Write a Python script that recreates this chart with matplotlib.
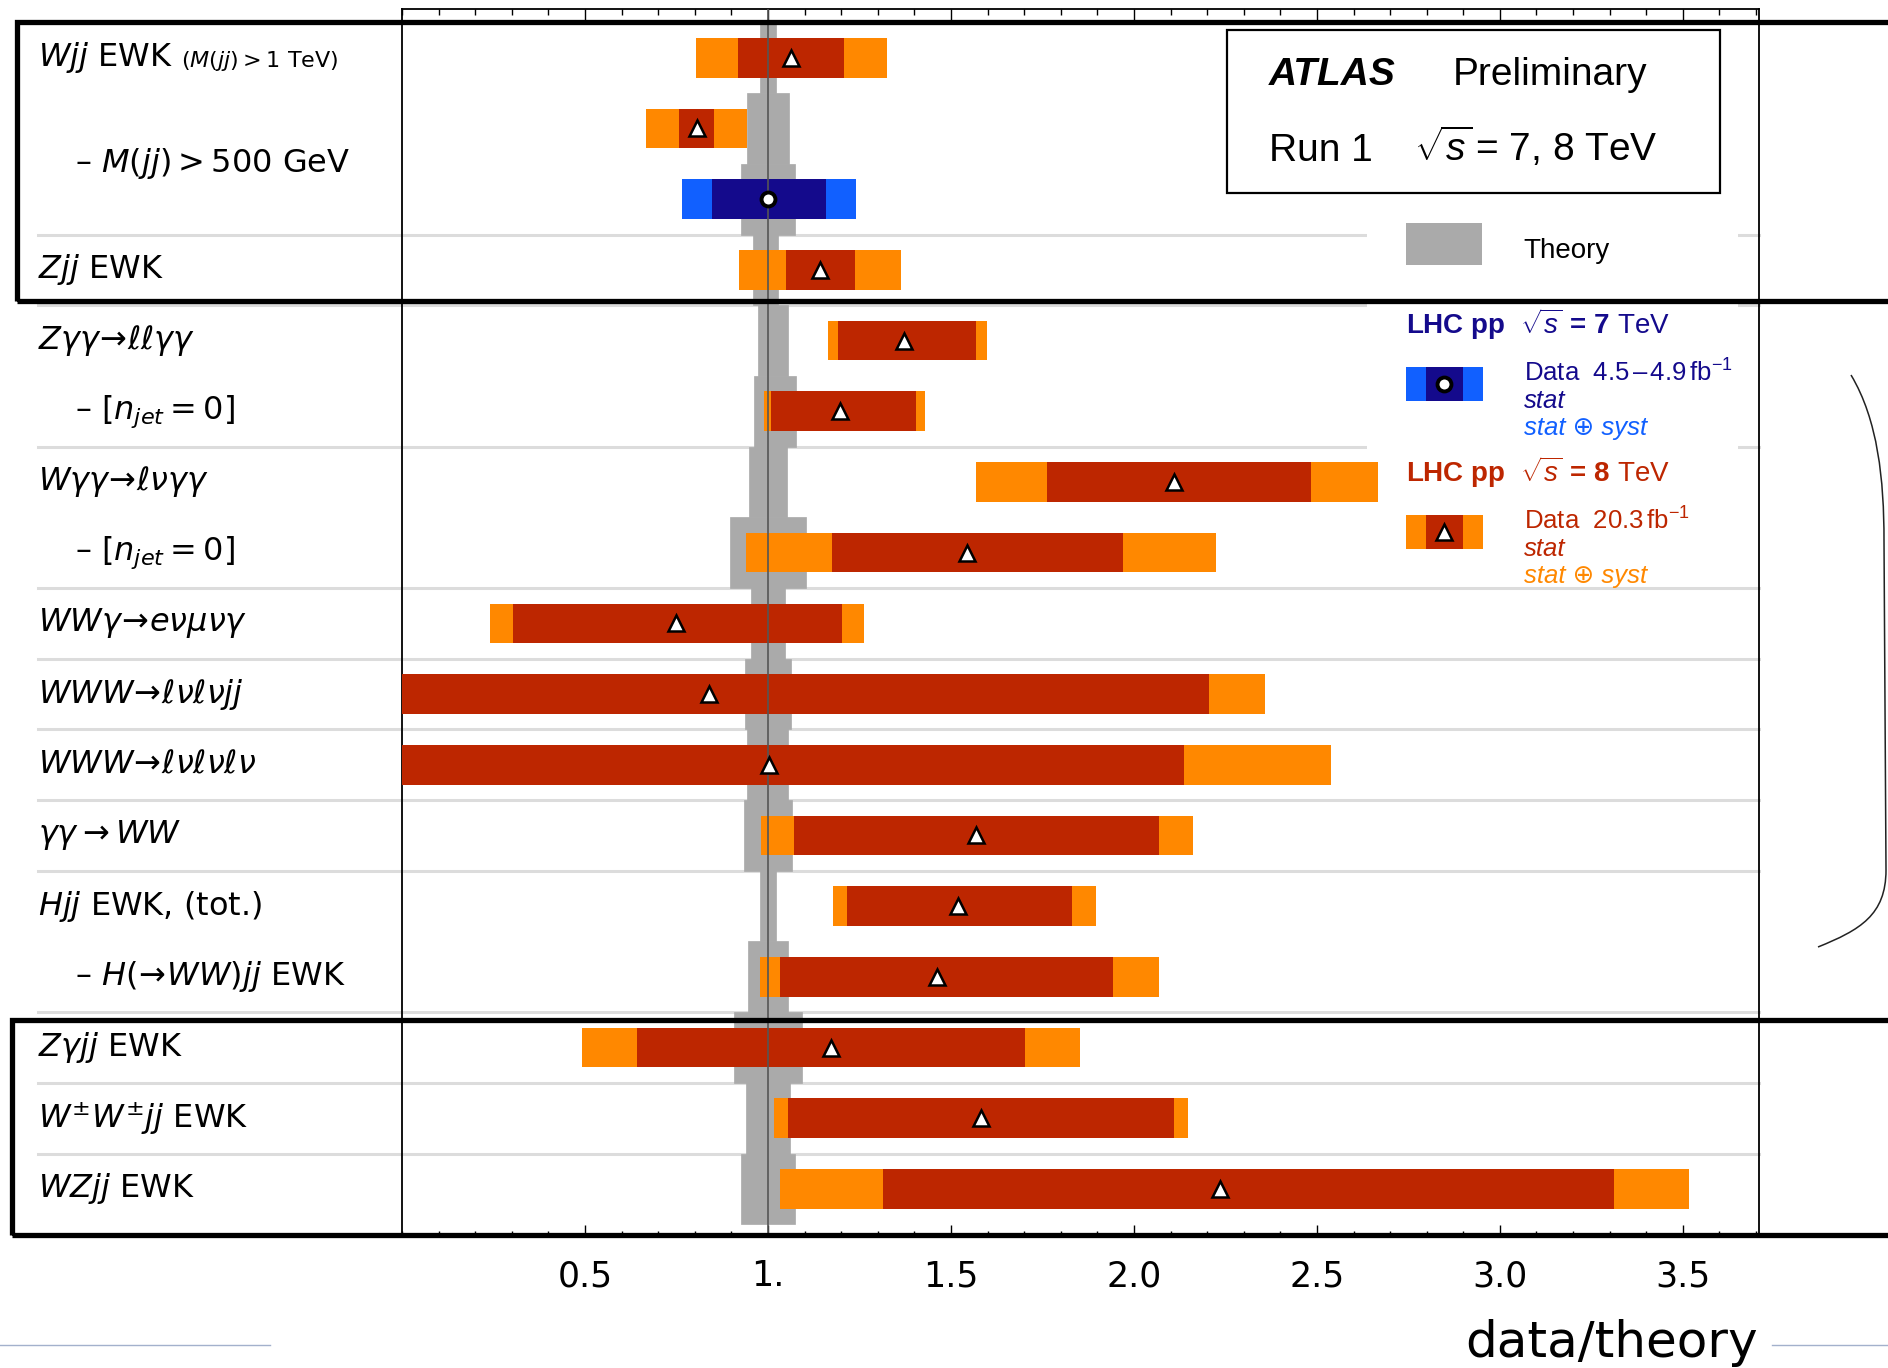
import matplotlib.pyplot as plt
from matplotlib import transforms
from matplotlib.lines import Line2D
from matplotlib.patches import Rectangle, PathPatch
from matplotlib.path import Path
from matplotlib.ticker import MultipleLocator

plt.rcParams['mathtext.fontset'] = 'custom'
plt.rcParams['mathtext.rm'] = 'Liberation Sans'
plt.rcParams['mathtext.it'] = 'Liberation Sans:italic'
plt.rcParams['mathtext.bf'] = 'Liberation Sans:bold'

# process labels (left column) and the row they sit on
labels = ['$Wjj$ EWK', '– $M(jj) > 500$ GeV', '$Zjj$ EWK',
          r'$Z\gamma\gamma\!\rightarrow\!\ell\ell\gamma\gamma$', r'– $[n_{jet} = 0]$',
          r'$W\gamma\gamma\!\rightarrow\!\ell\nu\gamma\gamma$', r'– $[n_{jet} = 0]$',
          r'$WW\gamma\!\rightarrow\! e\nu\mu\nu\gamma$', r'$WWW\!\rightarrow\!\ell\nu\ell\nu jj$',
          r'$WWW\!\rightarrow\!\ell\nu\ell\nu\ell\nu$', r'$\gamma\gamma\rightarrow WW$',
          '$Hjj$ EWK, (tot.)', r'– $H(\!\rightarrow\! WW)jj$ EWK',
          r'$Z\gamma jj$ EWK', r'$W^{\pm}W^{\pm}jj$ EWK', '$WZjj$ EWK']
label_rows = [0, 1.5, 3, 4, 5, 6, 7, 8, 9, 10, 11, 12, 13, 14, 15, 16]
label_indent = [False, True, False, False, True, False, True, False,
                False, False, False, False, True, False, False, False]

# one entry per measurement row (top to bottom)
energy = [8, 8, 7, 8, 8, 8, 8, 8, 8, 8, 8, 8, 8, 8, 8, 8, 8]
central = [1.062, 0.805, 1.000, 1.142, 1.372, 1.197, 2.109, 1.543, 0.750,
           0.840, 1.003, 1.569, 1.520, 1.461, 1.171, 1.582, 2.234]
stat_lo = [0.919, 0.757, 0.846, 1.050, 1.191, 1.007, 1.763, 1.174, 0.303,
           -0.50, -0.50, 1.072, 1.217, 1.033, 0.641, 1.056, 1.313]
stat_hi = [1.208, 0.853, 1.159, 1.238, 1.569, 1.405, 2.484, 1.970, 1.201,
           2.204, 2.138, 2.069, 1.832, 1.944, 1.701, 2.109, 3.313]
tot_lo = [0.802, 0.667, 0.764, 0.922, 1.164, 0.990, 1.569, 0.941, 0.240,
          -0.60, -0.60, 0.980, 1.178, 0.977, 0.493, 1.016, 1.033]
tot_hi = [1.325, 0.942, 1.240, 1.364, 1.599, 1.428, 2.668, 2.224, 1.263,
          2.359, 2.539, 2.161, 1.895, 2.069, 1.852, 2.148, 3.516]
theory_dn = [0.022, 0.058, 0.074, 0.040, 0.026, 0.039, 0.053, 0.104, 0.047,
             0.064, 0.056, 0.065, 0.022, 0.054, 0.093, 0.061, 0.074]
theory_up = [0.023, 0.058, 0.074, 0.028, 0.054, 0.077, 0.053, 0.104, 0.047,
             0.064, 0.056, 0.065, 0.022, 0.054, 0.093, 0.061, 0.074]

separators = [2.5, 3.5, 5.5, 7.5, 8.5, 9.5, 10.5, 11.5, 13.5, 14.5, 15.5]
tick_vals = [0.5, 1.0, 1.5, 2.0, 2.5, 3.0, 3.5]
tick_text = ['0.5', '1.', '1.5', '2.0', '2.5', '3.0', '3.5']

stat_col = {7: '#140a8c', 8: '#bd2600'}
tot_col = {7: '#1160ff', 8: '#ff8800'}
mark = {7: 'o', 8: '^'}
mark_size = {7: 10, 8: 11}
mark_edge = {7: 2.8, 8: 1.8}

W, H = 1888, 1368
def fx(px):
    return px / W
def fy(py):
    return 1 - py / H

fig = plt.figure(figsize=(W / 100, H / 100), dpi=100)
ax = fig.add_axes([fx(402), fy(1237), fx(1759) - fx(402), fy(9) - fy(1237)])
rows = list(range(len(central)))

# theory band
ax.barh(rows, [d + u for d, u in zip(theory_dn, theory_up)],
        left=[1 - d for d in theory_dn], height=1.0, color='#aaaaaa',
        edgecolor='#aaaaaa', lw=0.5, zorder=2)
# stat+syst and stat bars
ax.barh(rows, [h - l for l, h in zip(tot_lo, tot_hi)], left=tot_lo, height=0.56,
        color=[tot_col[e] for e in energy], zorder=3)
ax.barh(rows, [h - l for l, h in zip(stat_lo, stat_hi)], left=stat_lo, height=0.56,
        color=[stat_col[e] for e in energy], zorder=3.1)
ax.axvline(1, color='#555555', lw=1.2, zorder=4)
for i in rows:
    e = energy[i]
    ax.plot(central[i], i, marker=mark[e], ms=mark_size[e],
            mfc='white', mec='black', mew=mark_edge[e], zorder=5)

# legend background hides the separators
ax.add_patch(Rectangle((2.637, 2.4), 1.013, 5.0, fc='white', ec='none', zorder=1.5))

blend = transforms.blended_transform_factory(fig.transFigure, ax.transData)
for s in separators:
    ax.add_line(Line2D([fx(38), fx(1759)], [s, s], transform=blend, color='#dcdcdc',
                       lw=2.2, zorder=1, clip_on=False))

for lab, r, ind in zip(labels, label_rows, label_indent):
    t = ax.text(fx(75) if ind else fx(38), r, lab, transform=blend, fontsize=23,
                va='center', ha='left', math_fontfamily='dejavusans')
    if r == 0:
        ax.annotate(r'$(M(jj) > 1$ TeV$)$', xy=(1, 0.42), xycoords=t, xytext=(6, 0),
                    textcoords='offset points', fontsize=16, va='center',
                    math_fontfamily='dejavusans')

ax.set_xlim(0, 3.708)
ax.set_ylim(16.68, -0.69)
ax.set_yticks([])
ax.set_xticks(tick_vals)
ax.set_xticklabels(tick_text)
ax.xaxis.set_minor_locator(MultipleLocator(0.1))
ax.tick_params(axis='x', which='both', direction='in', top=True, bottom=True)
ax.tick_params(axis='x', which='major', length=9, width=1, labelsize=25, pad=16)
ax.tick_params(axis='x', which='minor', length=4, width=1)
for sp in ax.spines.values():
    sp.set_linewidth(1.3)

# ATLAS box
fig.add_artist(Rectangle((fx(1227), fy(193)), fx(1720) - fx(1227), fy(30) - fy(193),
                         transform=fig.transFigure, fill=False, ec='black', lw=1.6))
lib = 'Liberation Sans'
fig.text(fx(1269), fy(85), 'ATLAS', fontsize=28, weight='bold', style='italic', family=lib)
fig.text(fx(1453), fy(85), 'Preliminary', fontsize=28, family=lib)
fig.text(fx(1269), fy(161), 'Run 1', fontsize=28, family=lib)
fig.text(fx(1414), fy(161), r'$\sqrt{s}\,$= 7, 8 TeV', fontsize=28, family=lib,
         math_fontfamily='custom')

# legend
fig.add_artist(Rectangle((fx(1406), fy(265)), fx(76), fy(223) - fy(265),
                         transform=fig.transFigure, fc='#aaaaaa', ec='none'))
fig.text(fx(1523), fy(258), 'Theory', fontsize=20, family=lib)

for e, base in [(7, 334), (8, 482)]:
    fig.text(fx(1406), fy(base), r'$\mathbf{LHC\ pp}\ \ \sqrt{s}\,\mathbf{=\,%d}$ TeV' % e,
             fontsize=20, family=lib, color=stat_col[e], math_fontfamily='custom')
    top = base + 33
    fig.add_artist(Rectangle((fx(1406), fy(top + 34)), fx(77), fy(top) - fy(top + 34),
                             transform=fig.transFigure, fc=tot_col[e], ec='none'))
    fig.add_artist(Rectangle((fx(1426), fy(top + 34)), fx(37), fy(top) - fy(top + 34),
                             transform=fig.transFigure, fc=stat_col[e], ec='none'))
    fig.add_artist(Line2D([fx(1444)], [fy(top + 17)], transform=fig.transFigure,
                          marker=mark[e], ms=mark_size[e], mfc='white', mec='black',
                          mew=mark_edge[e]))
    lumi = r'Data  4.5$\,$–$\,$4.9$\,$fb$^{-1}$' if e == 7 else r'Data  20.3$\,$fb$^{-1}$'
    fig.text(fx(1524), fy(base + 48), lumi, fontsize=18.5, family=lib,
             color=stat_col[e], math_fontfamily='custom')
    fig.text(fx(1524), fy(base + 74), 'stat', fontsize=18.5, family=lib, style='italic',
             color=stat_col[e])
    fig.text(fx(1524), fy(base + 101), 'stat ⊕ syst', fontsize=18.5,
             family=[lib, 'DejaVu Sans'], style='italic', color=tot_col[e])

# thick group boxes running off the right edge
fig.add_artist(Rectangle((fx(17), fy(301)), 1.2, fy(22) - fy(301), transform=fig.transFigure,
                         fill=False, ec='black', lw=3.8, zorder=10))
fig.add_artist(Rectangle((fx(12), fy(1235)), 1.2, fy(1020) - fy(1235), transform=fig.transFigure,
                         fill=False, ec='black', lw=3.8, zorder=10))

# slide leftovers: brace and rules
brace = Path([(fx(1851), fy(375)), (fx(1878), fy(420)), (fx(1884), fy(480)), (fx(1884), fy(540)),
              (fx(1886), fy(870)),
              (fx(1886), fy(915)), (fx(1860), fy(930)), (fx(1818), fy(947))],
             [Path.MOVETO, Path.CURVE4, Path.CURVE4, Path.CURVE4, Path.LINETO,
              Path.CURVE4, Path.CURVE4, Path.CURVE4])
fig.add_artist(PathPatch(brace, transform=fig.transFigure, fill=False, ec='#222222', lw=1.1))
fig.add_artist(Line2D([0, fx(270)], [fy(1345)] * 2, transform=fig.transFigure, color='#a3b1cc', lw=1))
fig.add_artist(Line2D([fx(1772), 1], [fy(1345)] * 2, transform=fig.transFigure, color='#a3b1cc', lw=1))

fig.text(fx(1758), fy(1357), 'data/theory', ha='right', va='baseline', fontsize=36)

fig.savefig('out.png', dpi=100)
